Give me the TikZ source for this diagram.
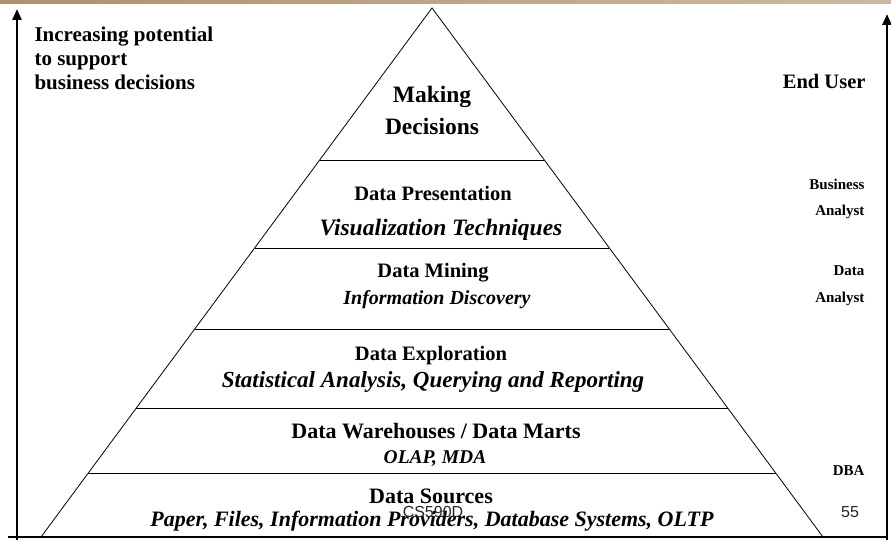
\documentclass[tikz,border=0pt]{standalone}
\usepackage{fontspec}
\setmainfont{Liberation Serif}
\newfontfamily\footfont{Liberation Sans}
\usetikzlibrary{calc,arrows.meta}
\definecolor{barleft}{HTML}{B0906C}
\definecolor{barright}{HTML}{CDB9A0}
\newcommand{\fs}[1]{\fontsize{#1}{1.2\dimexpr#1pt\relax}\selectfont}
\tikzset{
  tier/.style={font=\bfseries\fs{#1},inner sep=0pt},
  tier/.default=21,
  usage/.style={font=\bfseries\itshape\fs{#1},inner sep=0pt},
  usage/.default=22,
  role/.style={font=\bfseries\fs{15},align=right,anchor=east},
  foot/.style={font=\footfont\fs{16},text=black!85},
  scale arrow/.style={line width=2.6pt,-{Triangle[length=11pt,width=9pt]}}
}
\begin{document}
\begin{tikzpicture}[x=1pt,y=-1pt]
\useasboundingbox (0,0) rectangle (891,540);
\shade[left color=barleft,right color=barright] (0,0) rectangle (891,4);
% scale arrows and base line
\coordinate (lb) at (17,541);
\coordinate (lt) at (17,9);
\coordinate (rb) at (887,541);
\coordinate (rt) at (887,14);
\draw[scale arrow] (lb) -- (lt);
\draw[scale arrow] (rb) -- (rt);
\draw[line width=1.4pt] (8,537) -- (888,537);
% the pyramid
\coordinate (apex) at (432,8);
\coordinate (bl) at (41,537);
\coordinate (br) at (823,537);
\draw[line width=0.8pt] (bl) -- (apex) -- (br);
\foreach \t in {0.2873,0.4537,0.6068,0.7561,0.879}
  \draw[line width=0.8pt] ($(apex)!\t!(bl)$) -- ($(apex)!\t!(br)$);
\node[tier=23.5] (making) at (432,97) {Making};
\node[tier=23.5] (decisions) at (432,126) {Decisions};
\node[tier=20.5] (present) at (433,193) {Data Presentation};
\node[usage=23.5] (visual) at (441,230) {Visualization Techniques};
\node[tier=20.5] (mining) at (433,273) {Data Mining};
\node[usage=20] (discover) at (437,300) {Information Discovery};
\node[tier=20.5] (explore) at (431,356) {Data Exploration};
\node[usage=23] (statistic) at (433,382) {Statistical Analysis, Querying and Reporting};
\node[tier=22] (warehouse) at (436,431) {Data Warehouses / Data Marts};
\node[usage=19.5] (olap) at (435,459) {OLAP, MDA};
\node[tier=22] (sources) at (431,496) {Data Sources};
\node[usage=22] (paper) at (432,521) {Paper, Files, Information Providers, Database Systems, OLTP};
% who works where
\node[font=\bfseries\fontsize{21}{24}\selectfont,align=left,anchor=north west] (potential) at (31,23)
  {Increasing potential\\to support\\business decisions};
\node[role,font=\bfseries\fs{20.5}] (enduser) at (869,81) {End User};
\node[role,font=\bfseries\fontsize{15}{26}\selectfont] (busanalyst) at (868,199) {Business\\Analyst};
\node[role,font=\bfseries\fontsize{15}{27}\selectfont] (dataanalyst) at (868,286) {Data\\Analyst};
\node[role] (dba) at (868,471) {DBA};
% slide footer
\node[foot] (course) at (433,512) {CS590D};
\node[foot] (page) at (850,512) {55};
\end{tikzpicture}
\end{document}
